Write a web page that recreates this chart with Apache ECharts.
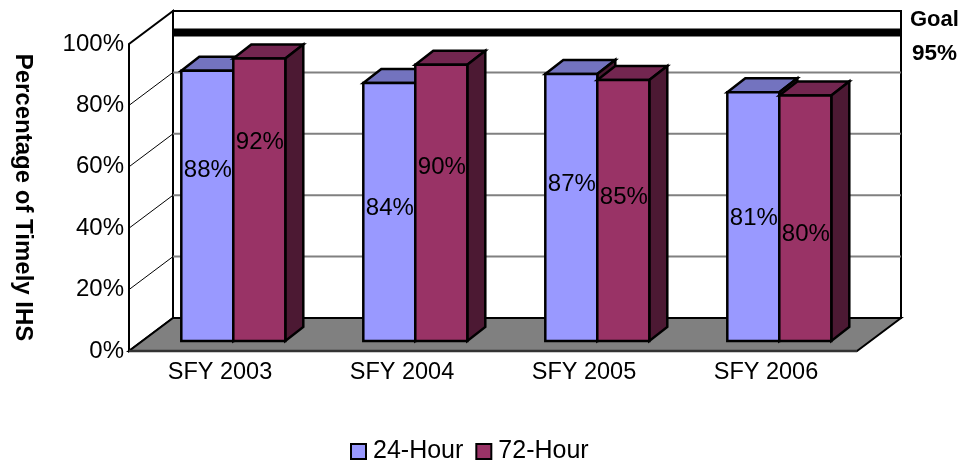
<!DOCTYPE html>
<html><head><meta charset="utf-8">
<style>html,body{margin:0;padding:0;background:#fff}#c{width:962px;height:462px}</style>
<script src="https://cdn.jsdelivr.net/npm/echarts@6/dist/echarts.min.js"></script>
</head><body><div id="c"></div>
<script>
const categories = ['SFY 2003','SFY 2004','SFY 2005','SFY 2006'];
const hour24 = [88,84,87,81];
const hour72 = [92,90,85,80];
const gridTicks = [20,40,60,80];
const goalDrawnAt = [93];
const label24Level = [56,43.6,51.5,40.4];
const label72Level = [65,57,47,35];
const FONT='"Liberation Sans",Arial,sans-serif';
const WALL={dx:44,dy:-33}, BARPLANE={dx:13.3,dy:-10}, BARDEPTH={dx:18,dy:-14}, BW=52;

function poly(pts,fill,stroke,lw){
  return {type:'polygon',shape:{points:pts},style:{fill:fill,stroke:stroke||'#000',lineWidth:lw==null?2.5:lw,lineJoin:'miter'}};
}
function ln(x1,y1,x2,y2,stroke,lw){
  return {type:'line',shape:{x1,y1,x2,y2},style:{stroke,lineWidth:lw}};
}
function renderWalls(params,api){
  const c=params.coordSys, x0=c.x, x1=c.x+c.width, yT=c.y, yB=c.y+c.height;
  const d=WALL, kids=[];
  kids.push(poly([[x0+d.dx,yT+d.dy],[x1+d.dx,yT+d.dy],[x1+d.dx,yB+d.dy],[x0+d.dx,yB+d.dy]],'#fff','#000',2));
  kids.push(poly([[x0,yB],[x0,yT],[x0+d.dx,yT+d.dy],[x0+d.dx,yB+d.dy]],'#fff','#000',2));
  gridTicks.forEach(v=>{
    const y=api.coord([0,v])[1];
    kids.push(ln(x0+d.dx,y+d.dy,x1+d.dx,y+d.dy,'#808080',2));
    kids.push(ln(x0,y,x0+d.dx,y+d.dy,'#000',1));
  });
  kids.push(poly([[x0,yB],[x1,yB],[x1+d.dx,yB+d.dy],[x0+d.dx,yB+d.dy]],'#808080','#000',2));
  kids.push(ln(x0,yB,x1,yB,'#333',2.5));
  const gy=api.coord([0,goalDrawnAt[0]])[1]+d.dy;
  kids.push(ln(x0+d.dx,gy,x1+d.dx,gy,'#000',8));
  return {type:'group',children:kids};
}
function barRenderer(slot,front,top,side,levels,values){
  return function(params,api){
    const i=api.value(0), v=api.value(1);
    const p=api.coord([i,v]), b=api.coord([i,0]);
    const xl=p[0]+BARPLANE.dx+(slot===0?-BW:0), xr=xl+BW;
    const yt=p[1]+BARPLANE.dy, yb=b[1]+BARPLANE.dy;
    const dx=BARDEPTH.dx, dy=BARDEPTH.dy;
    const ly=api.coord([i,levels[i]])[1]+BARPLANE.dy+1;
    return {type:'group',children:[
      poly([[xl,yt],[xr,yt],[xr+dx,yt+dy],[xl+dx,yt+dy]],top),
      poly([[xr,yt],[xr+dx,yt+dy],[xr+dx,yb+dy],[xr,yb]],side),
      poly([[xl,yt],[xr,yt],[xr,yb],[xl,yb]],front),
      {type:'text',z2:50,style:{text:values[i]+'%',x:(xl+xr)/2+0.5,y:ly,align:'center',verticalAlign:'middle',
        fontFamily:FONT,fontSize:24,fill:'#000'}}
    ]};
  };
}
const chart=echarts.init(document.getElementById('c'),null,{renderer:'canvas'});
chart.setOption({
  animation:false,
  backgroundColor:'#fff',
  grid:{left:129,top:44,width:728,height:307,outerBoundsMode:'none',containLabel:false},
  legend:{left:345,top:434,itemWidth:15,itemHeight:15,itemGap:12,
    textStyle:{fontFamily:FONT,fontSize:25,color:'#000',padding:[0,0,0,2]},
    data:[{name:'24-Hour',icon:'rect',itemStyle:{color:'#9999FF',borderColor:'#000',borderWidth:2}},
          {name:'72-Hour',icon:'rect',itemStyle:{color:'#993366',borderColor:'#000',borderWidth:2}}]},
  xAxis:{type:'category',data:categories,axisLine:{show:false},axisTick:{show:false},
    axisLabel:{fontFamily:FONT,fontSize:23.5,color:'#000',margin:10}},
  yAxis:{type:'value',min:0,max:100,interval:20,axisLine:{show:false},axisTick:{show:false},splitLine:{show:false},
    axisLabel:{fontFamily:FONT,fontSize:24,color:'#000',margin:5,formatter:'{value}%'},
    name:'Percentage of Timely IHS',nameLocation:'middle',nameRotate:-90,nameGap:94,
    nameTextStyle:{fontFamily:FONT,fontSize:24,fontWeight:'bold',color:'#000'}},
  graphic:[
    {type:'text',left:910,top:9,style:{text:'Goal',fontFamily:FONT,fontSize:22,fontWeight:'bold',fill:'#000'}},
    {type:'text',left:912,top:42,style:{text:'95%',fontFamily:FONT,fontSize:22.5,fontWeight:'bold',fill:'#000'}}
  ],
  series:[
    {type:'custom',name:'walls',silent:true,z:1,renderItem:renderWalls,data:[[0,0]],clip:false},
    {type:'custom',name:'24-Hour',z:2,itemStyle:{color:'#9999FF'},renderItem:barRenderer(0,'#9999FF','#7373BF','#4C1933',label24Level,hour24),
      data:categories.map((c,i)=>[i,hour24[i]]),encode:{x:0,y:1},clip:false},
    {type:'custom',name:'72-Hour',z:3,itemStyle:{color:'#993366'},renderItem:barRenderer(1,'#993366','#732650','#4C1933',label72Level,hour72),
      data:categories.map((c,i)=>[i,hour72[i]]),encode:{x:0,y:1},clip:false}
  ]
});
</script></body></html>
